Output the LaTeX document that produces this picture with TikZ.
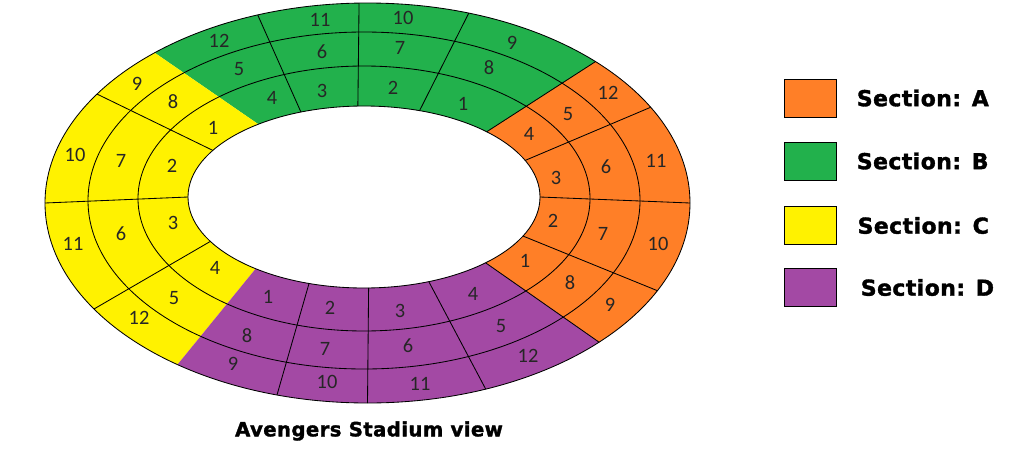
\documentclass[tikz,border=0pt]{standalone}
\usepackage{fontspec}
\setmainfont{Carlito}
\newfontfamily\keyfont[LetterSpace=2,FakeBold=1.6]{DejaVu Sans}
\usetikzlibrary{positioning}
\definecolor{SecA}{RGB}{255,127,39}
\definecolor{SecB}{RGB}{34,177,76}
\definecolor{SecC}{RGB}{255,242,0}
\definecolor{SecD}{RGB}{163,73,164}

% outer and inner rim of the stand (pixel units, y down)
\def\oX{367.5}\def\oY{203}\def\oRx{322.5}\def\oRy{200}
\def\iX{364}\def\iY{197}\def\iRx{176}\def\iRy{91}

\begin{document}
\begin{tikzpicture}[
    x=0.025cm,
    y=-0.025cm,
    line width=0.6pt,
    rim/.style={draw=black},
    seat/.style={inner sep=0pt, font=\fontsize{14.5}{16}\selectfont, text=black!85},
    key/.style={draw=black, minimum width=1.3cm, minimum height=0.95cm, inner sep=0pt},
    keytext/.style={inner sep=0pt, anchor=west, font=\keyfont\bfseries\fontsize{15.6}{18}\selectfont},
    caption/.style={inner sep=0pt, font=\keyfont\bfseries\fontsize{14}{17}\selectfont}
  ]
    \fill[white] (0,0) rectangle (1030,461);
    \useasboundingbox (0,0) rectangle (1030,461);

    % the four sections
    \foreach \col/\s/\e/\si/\ei in {SecA/315/404.1/314.2/406.3, SecB/228.7/315/233.1/314.2,
                                    SecC/126.1/228.7/128/233.1, SecD/44.1/126.1/46.3/128}
      \fill[\col] ({\oX+\oRx*cos(\s)},{\oY+\oRy*sin(\s)})
        arc[start angle=\s, end angle=\e, x radius=\oRx, y radius=\oRy]
        -- ({\iX+\iRx*cos(\ei)},{\iY+\iRy*sin(\ei)})
        arc[start angle=\ei, end angle=\si, x radius=\iRx, y radius=\iRy] -- cycle;

    % rows
    \draw[rim] (\oX,\oY) ellipse[x radius=\oRx, y radius=\oRy];
    \draw[rim] (364,200.5) ellipse[x radius=276, y radius=168.5];
    \draw[rim] (364,198.5) ellipse[x radius=226, y radius=132.5];
    \draw[rim] (\iX,\iY) ellipse[x radius=\iRx, y radius=\iRy];

    % column lines
    \foreach \n/\a/\b in {b1/250.1/249, b2/268.5/268, b3/288.3/288.4, ba/315/314.2,
                          a1/331.4/336.3, a2/360/360, a3/26/25.4, ad/44.1/46.3,
                          d1/68.5/68.4, d2/90/88.5, d3/106.3/108.2,
                          c1/148/150.8, c2/180/180, c3/213/210.8} {
      \coordinate (o\n) at ({\oX+\oRx*cos(\a)},{\oY+\oRy*sin(\a)});
      \coordinate (i\n) at ({\iX+\iRx*cos(\b)},{\iY+\iRy*sin(\b)});
      \draw[rim] (o\n) -- (i\n);
    }

    % seat numbers
    \foreach \n/\x/\y in {1/525/261, 2/553/221, 3/556/178, 4/529/134, 5/568/114, 6/606/167,
                          7/603/234, 8/570/283, 9/610/305, 10/658/244, 11/656/161, 12/608/93}
      \node[seat] (A\n) at (\x,\y) {\n};
    \foreach \n/\x/\y in {1/463/104, 2/393/88, 3/322/91, 4/272/98, 5/239/69, 6/322/52,
                          7/400/48, 8/489/68, 9/512/43, 10/403/18, 11/320/20, 12/219/41}
      \node[seat] (B\n) at (\x,\y) {\n};
    \foreach \n/\x/\y in {1/213/128, 2/172/166, 3/173/223, 4/215/268, 5/174/298, 6/121/234,
                          7/121/161, 8/173/102, 9/137/84, 10/75/155, 11/73/244, 12/139/318}
      \node[seat] (C\n) at (\x,\y) {\n};
    \foreach \n/\x/\y in {1/268/297, 2/330/308, 3/400/311, 4/473/294, 5/501/326, 6/408/346,
                          7/325/349, 8/247/336, 9/233/364, 10/327/382, 11/420/384, 12/528/356}
      \node[seat] (D\n) at (\x,\y) {\n};

    % legend
    \node[key, fill=SecA] (keyA) at (810,98) {};
    \node[key, fill=SecB] (keyB) at (810,161) {};
    \node[key, fill=SecC] (keyC) at (810,225.5) {};
    \node[key, fill=SecD] (keyD) at (810,287.5) {};
    \node[keytext, right=0.5cm of keyA] (labA) {Section: A};
    \node[keytext, right=0.5cm of keyB] (labB) {Section: B};
    \node[keytext, right=0.52cm of keyC] (labC) {Section: C};
    \node[keytext, right=0.6cm of keyD] (labD) {Section: D};

    \node[caption] (title) at (369,431) {Avengers Stadium view};
  \end{tikzpicture}
\end{document}
